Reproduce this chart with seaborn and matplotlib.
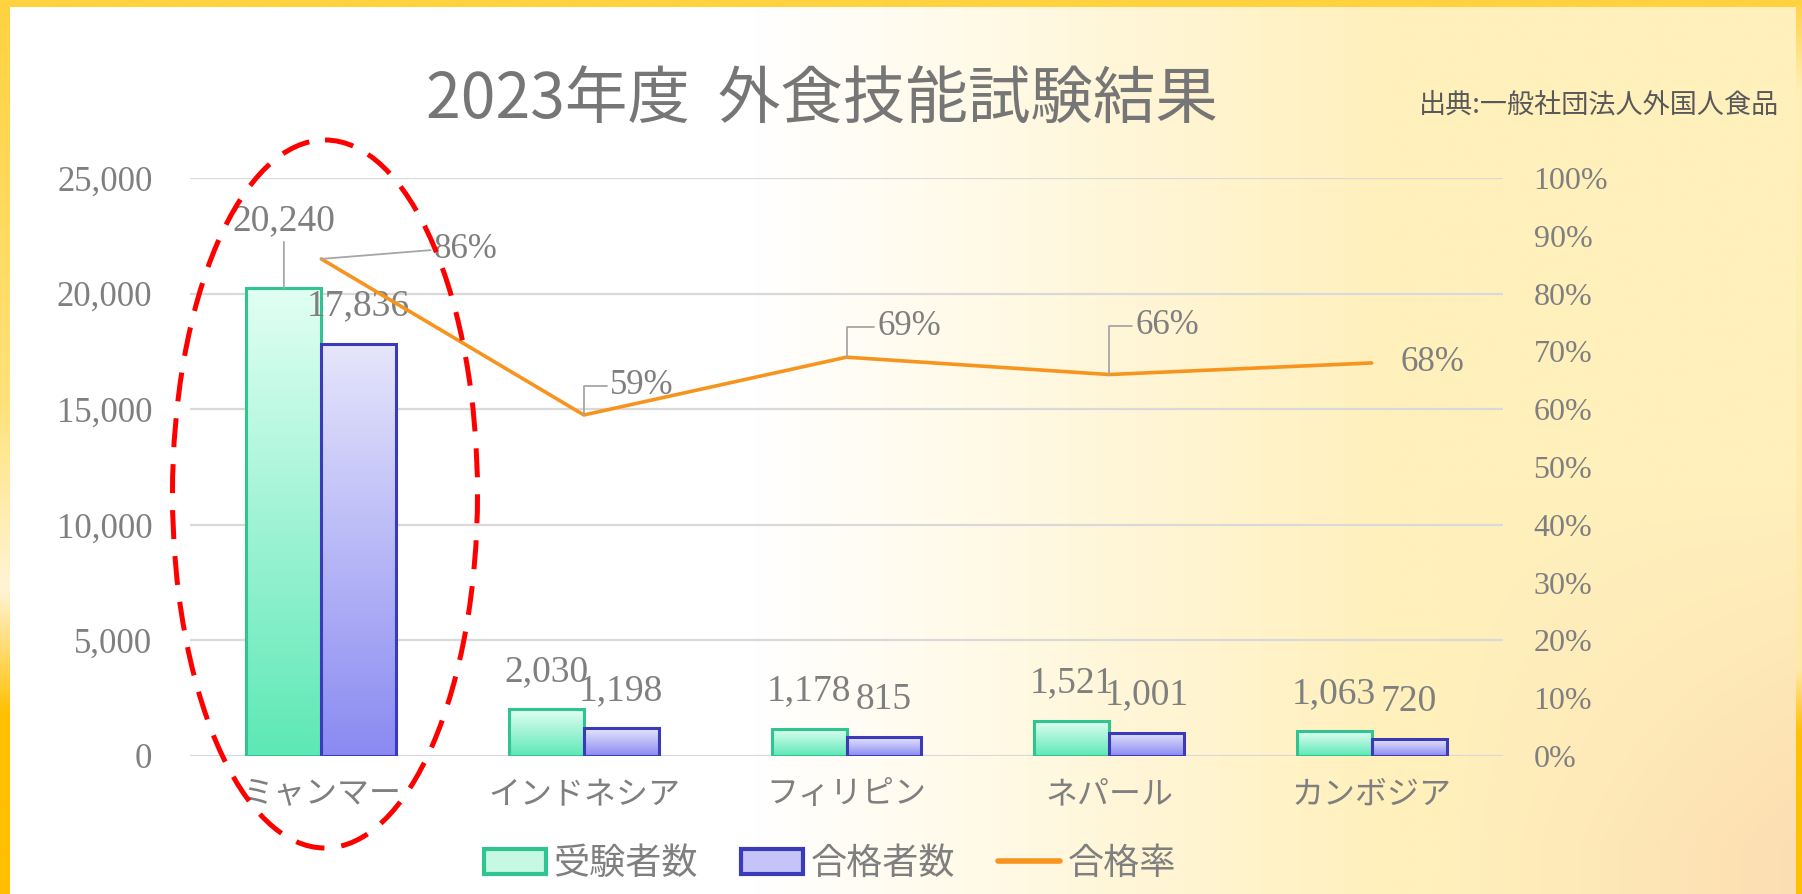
import numpy as np
import pandas as pd
import seaborn as sns
import matplotlib.pyplot as plt
from matplotlib.patches import Ellipse, Patch
from matplotlib.lines import Line2D
from matplotlib.colors import to_rgb

# === Data ===
countries = ["ミャンマー", "インドネシア", "フィリピン", "ネパール", "カンボジア"]
examinees = [20240, 2030, 1178, 1521, 1063]
passers = [17836, 1198, 815, 1001, 720]
pass_rate = [86, 59, 69, 66, 68]
series_names = ["受験者数", "合格者数", "合格率"]
left_ticks = [0, 5000, 10000, 15000, 20000, 25000]
right_ticks = [0, 10, 20, 30, 40, 50, 60, 70, 80, 90, 100]
title = "2023年度  外食技能試験結果"
source = "出典:一般社団法人外国人食品"  # cut at the slide edge in the original

df = pd.DataFrame({
    "国": countries * 2,
    "人数": examinees + passers,
    "区分": [series_names[0]] * len(countries) + [series_names[1]] * len(countries),
})

# === Style ===
sns.set_theme(style="white")
plt.rcParams["font.family"] = ["Noto Sans CJK JP", "DejaVu Sans"]
JP = "Noto Sans CJK JP"
NUM = "Liberation Serif"
GRAY = "#7f7f7f"
ORANGE = "#f7941d"
W, H = 1802, 894


def vgrad(stops, n=300):
    """vertical colour ramp, stops = [(pos, color), ...] with pos 0 = top"""
    pos = np.linspace(0, 1, n)
    ps = [s[0] for s in stops]
    cols = np.array([to_rgb(s[1]) for s in stops])
    out = np.stack([np.interp(pos, ps, cols[:, k]) for k in range(3)], axis=1)
    return out[:, None, :]


fig = plt.figure(figsize=(W / 100, H / 100), dpi=100)

# === background (slide gradient) ===
bg = fig.add_axes([0, 0, 1, 1], zorder=-10)
gx, gy = np.meshgrid(np.linspace(0, 1, 400), np.linspace(1, 0, 200))
t = np.clip((gx - 0.42) / 0.35, 0, 1)[..., None]
img = np.array(to_rgb("#ffffff")) * (1 - t) + np.array(to_rgb("#fff0bc")) * t
p = (np.clip((gx - 0.80) * 4, 0, 1) * np.clip((0.45 - gy) * 2.5, 0, 1) * 0.75)[..., None]
img = img * (1 - p) + np.array(to_rgb("#fbd2ab")) * p
bg.imshow(img, extent=[0, 1, 0, 1], aspect="auto", interpolation="bilinear")
bg.axis("off")

# === bars ===
ax = fig.add_axes([190 / W, 1 - 756 / H, (1503 - 190) / W, (756 - 178) / H])
ax.patch.set_alpha(0)
sns.barplot(data=df, x="国", y="人数", hue="区分", palette=["#9af2d0", "#aaaaf5"],
            width=0.57, gap=0, ax=ax, legend=False)

bar_styles = [("#e2fff4", "#5de8b6", "#2fc490"), ("#e6e6fc", "#8a8af2", "#3b3bb9")]
for cont, (top, bottom, edge) in zip(ax.containers, bar_styles):
    grad = vgrad([(0, top), (1, bottom)])
    for bar in cont:
        bar.set_facecolor("none")
        bar.set_edgecolor(edge)
        bar.set_linewidth(2.2)
        x0, w, h = bar.get_x(), bar.get_width(), bar.get_height()
        im = ax.imshow(grad, extent=[x0, x0 + w, 0, h], aspect="auto",
                       zorder=bar.get_zorder() - 0.01, interpolation="bilinear")
        im.set_clip_path(bar)

# === pass rate line ===
ax2 = ax.twinx()
sns.lineplot(x=np.arange(len(countries)), y=pass_rate, color=ORANGE, lw=2.6, ax=ax2)

ax.set_xlim(-0.5, len(countries) - 0.5)
ax.set_ylim(0, left_ticks[-1])
ax2.set_ylim(0, right_ticks[-1])

# axes cosmetics
ax.yaxis.grid(True, color="#d9d9d9", lw=1.6)
ax.xaxis.grid(False)
ax2.grid(False)
ax.set_axisbelow(True)
for a in (ax, ax2):
    for s in a.spines.values():
        s.set_visible(False)
    a.set_xlabel("")
    a.set_ylabel("")
    a.tick_params(length=0)

ax.set_yticks(left_ticks)
ax.set_yticklabels([f"{v:,}" for v in left_ticks], fontfamily=NUM, fontsize=25, color=GRAY)
ax.tick_params(axis="y", pad=27)
ax2.set_yticks(right_ticks)
ax2.set_yticklabels([f"{v}%" for v in right_ticks], fontfamily=NUM, fontsize=23, color=GRAY)
ax2.tick_params(axis="y", pad=22)
ax.set_xticks(range(len(countries)))
ax.set_xticklabels(countries, fontfamily=JP, fontsize=23, color=GRAY)
ax.tick_params(axis="x", pad=16)

# === data labels ===
lead = dict(arrowstyle="-", color="#a6a6a6", lw=1.3, shrinkA=0, shrinkB=0)
num_txt = dict(fontfamily=NUM, fontsize=27, color=GRAY)
top_val = max(examinees)
for cont in ax.containers:
    for bar in cont:
        val = bar.get_height()
        xc = bar.get_x() + bar.get_width() / 2
        if val == top_val:
            ax.annotate(f"{val:,.0f}", xy=(xc, val), xytext=(0, 48), textcoords="offset points",
                        ha="center", va="center", arrowprops=lead, **num_txt)
        else:
            ax.annotate(f"{val:,.0f}", xy=(xc, val), xytext=(0, 27), textcoords="offset points",
                        ha="center", va="center", **num_txt)

# label placement for the rate line: (dx pt, dy pt, leader style)
rate_label_place = [(81, 6.5, "arc3"), (19, 21, "angle,angleA=0,angleB=90,rad=0"),
                    (22, 22, "angle,angleA=0,angleB=90,rad=0"),
                    (19, 35, "angle,angleA=0,angleB=90,rad=0"), (21, 0, None)]
for i, (v, (dx, dy, conn)) in enumerate(zip(pass_rate, rate_label_place)):
    arrow = None if conn is None else dict(lead, connectionstyle=conn, relpos=(0, 0.5))
    ax2.annotate(f"{v}%", xy=(i, v), xytext=(dx, dy), textcoords="offset points",
                 ha="left", va="center", arrowprops=arrow, fontfamily=NUM, fontsize=25, color=GRAY)

# === title, source, legend ===
fig.text(822 / W, 1 - 101 / H, title, ha="center", va="center", fontsize=45,
         color="#767676", fontfamily=JP)
fig.text(1419 / W, 1 - 105 / H, source, ha="left", va="center", fontsize=19.5,
         color="#595959", fontfamily=JP, zorder=5)

handles = [
    Patch(facecolor="#c6f8e4", edgecolor="#2fc490", lw=3),
    Patch(facecolor="#c4c4f8", edgecolor="#3b3bb9", lw=3),
    Line2D([0], [0], color=ORANGE, lw=4),
]
fig.legend(handles, series_names, loc="center", bbox_to_anchor=(0.4606, 1 - 864 / H), ncol=3,
           frameon=False, prop=dict(family=JP, size=26), labelcolor=GRAY,
           handlelength=1.72, handleheight=0.7, handletextpad=0.2, columnspacing=1.2)

# === overlay: red dashed highlight and slide border ===
fr = fig.add_axes([0, 0, 1, 1], zorder=20)
fr.set_xlim(0, W)
fr.set_ylim(H, 0)
fr.axis("off")
fr.add_patch(Ellipse((325, 494), 305, 708, fill=False, edgecolor="#ff0000", lw=3.6,
                     linestyle=(0, (5.8, 3.4))))
fr.imshow(vgrad([(0, "#ffd23f"), (1, "#ffd23f")]), extent=[0, W, 7, 0], aspect="auto")
fr.imshow(vgrad([(0, "#ffd23f"), (0.45, "#ffe27a"), (0.66, "#fff4d6"), (0.8, "#ffc000"), (1, "#ffc000")]),
          extent=[0, 10, H, 0], aspect="auto", interpolation="bilinear")
fr.imshow(vgrad([(0, "#ffd23f"), (0.1, "#fff0b8"), (0.75, "#ffe9a6"), (0.82, "#ffc000"), (1, "#ffc000")]),
          extent=[W - 6, W, H, 0], aspect="auto", interpolation="bilinear")
fr.set_xlim(0, W)
fr.set_ylim(H, 0)

fig.savefig("out.png", dpi=100)
